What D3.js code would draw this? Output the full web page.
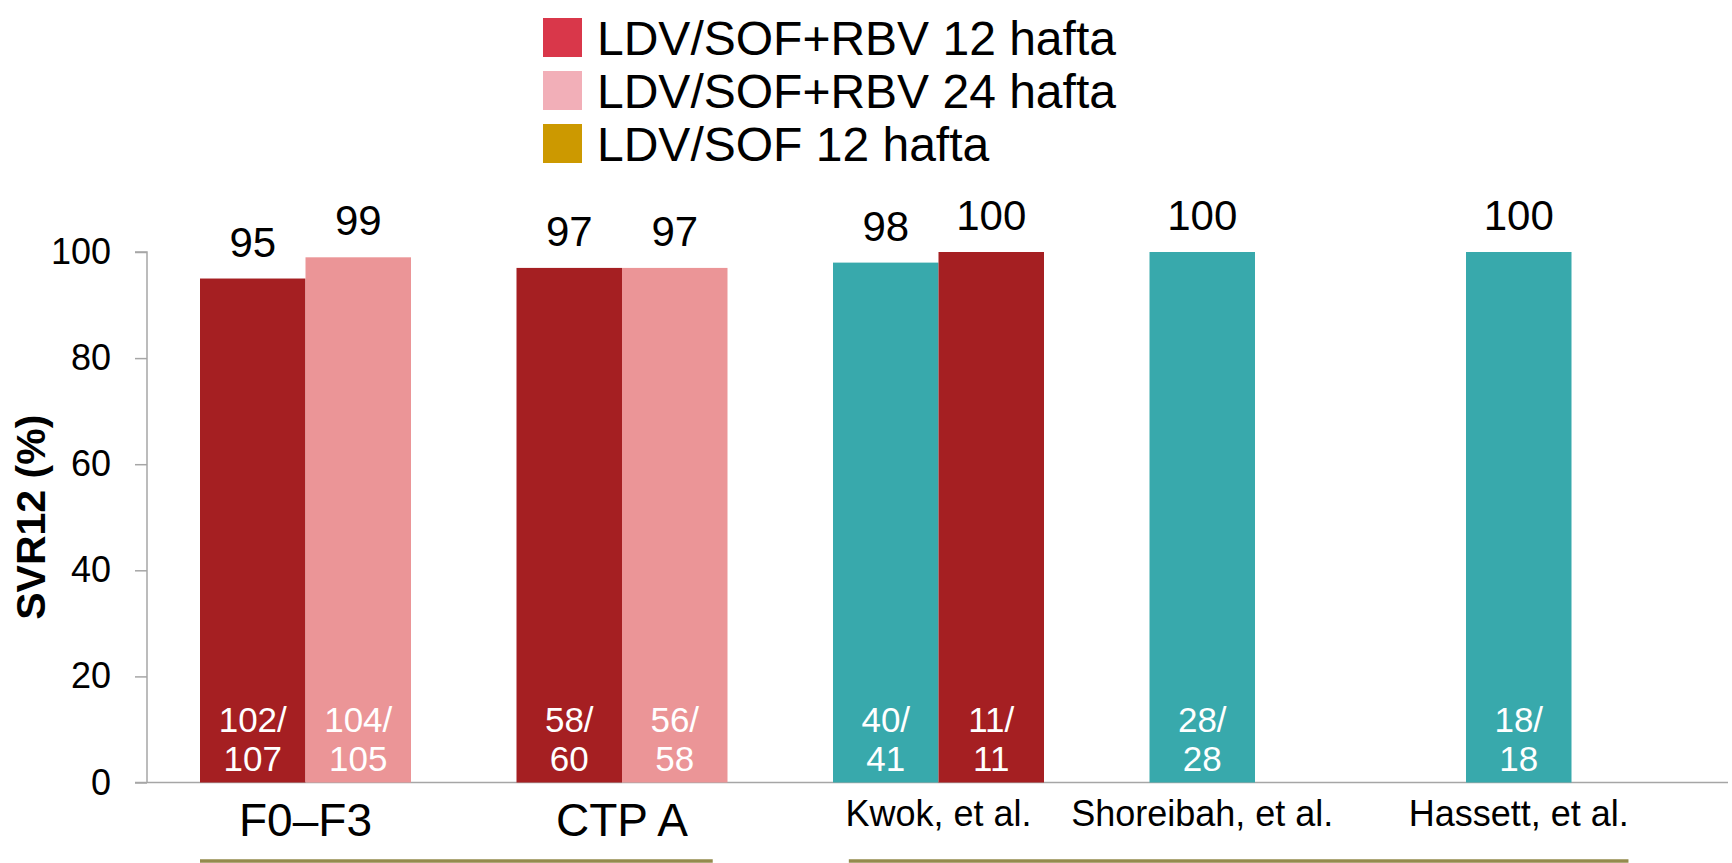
<!DOCTYPE html>
<html>
<head>
<meta charset="utf-8">
<script src="https://cdn.jsdelivr.net/npm/d3@7"></script>
<style>
  html, body { margin: 0; padding: 0; background: #ffffff; }
  svg { display: block; font-family: "Liberation Sans", Arial, Helvetica, sans-serif; }
</style>
</head>
<body>
<svg id="chart" width="1732" height="863"></svg>
<script>
// ---- data ----
const categories = ["F0–F3", "CTP A", "Kwok, et al.", "Shoreibah, et al.", "Hassett, et al."];
const seriesNames = ["LDV/SOF+RBV 12 hafta", "LDV/SOF+RBV 24 hafta", "LDV/SOF 12 hafta"];
const legendColors = ["#D9374A", "#F2AFB8", "#CC9900"];
const barColors = ["#A51F22", "#EB9597", "#38A9AC"];

const barCategory = ["F0–F3", "F0–F3", "CTP A", "CTP A", "Kwok, et al.", "Kwok, et al.", "Shoreibah, et al.", "Hassett, et al."];
const barSeries   = [0, 1, 0, 1, 2, 0, 2, 2];
const barSlot     = [0, 1, 0, 1, 0, 1, 0, 0];
const barValues   = [95, 99, 97, 97, 98, 100, 100, 100];
const barResponders = [102, 104, 58, 56, 40, 11, 28, 18];
const barTotals     = [107, 105, 60, 58, 41, 11, 28, 18];

const yTicks = [0, 20, 40, 60, 80, 100];
const yTitle = "SVR12 (%)";
const bracketGroups = [["F0–F3", "CTP A"], ["Kwok, et al.", "Hassett, et al."]];

// ---- layout ----
const svg = d3.select("#chart");
const axisX = 147;
const axisRight = 1728;
const y = d3.scaleLinear().domain([0, 100]).range([782.5, 252]);
const x = d3.scaleBand().domain(categories).range([200, 1677]).paddingInner(1 / 3).paddingOuter(0);
const xs = d3.scaleBand().domain([0, 1]).range([0, x.bandwidth()]).padding(0);

const bars = barValues.map((v, i) => ({
  cat: barCategory[i], s: barSeries[i], slot: barSlot[i], v,
  n: barResponders[i], N: barTotals[i]
}));

// ---- y axis ----
const yAxis = d3.axisLeft(y).tickValues(yTicks).tickSize(12).tickPadding(24).tickFormat(d3.format("d"));
const yg = svg.append("g").attr("transform", `translate(${axisX},0)`).call(yAxis);
yg.select(".domain").attr("stroke", "#A6A6A6").attr("stroke-width", 1.5)
  .attr("d", `M-12,${y(100)}H0V${y(0)}`);
yg.selectAll(".tick line").attr("stroke", "#A6A6A6").attr("stroke-width", 1.5);
yg.selectAll(".tick text").attr("fill", "#000").style("font-size", "36px")
  .style("font-family", "'Liberation Sans', Arial, sans-serif");

// baseline
svg.append("line")
  .attr("x1", axisX - 12).attr("x2", axisRight)
  .attr("y1", y(0)).attr("y2", y(0))
  .attr("stroke", "#A6A6A6").attr("stroke-width", 1.5);

// y title
svg.append("text")
  .attr("transform", `translate(45,${(y(0) + y(100)) / 2}) rotate(-90)`)
  .attr("text-anchor", "middle")
  .style("font-size", "41px").style("font-weight", "bold")
  .text(yTitle);

// ---- bars ----
const bx = d => x(d.cat) + xs(d.slot);
svg.append("g").selectAll("rect").data(bars).join("rect")
  .attr("x", bx)
  .attr("y", d => y(d.v))
  .attr("width", xs.bandwidth())
  .attr("height", d => y(0) - y(d.v))
  .attr("fill", d => barColors[d.s]);

// value labels
svg.append("g").selectAll("text").data(bars).join("text")
  .attr("x", d => bx(d) + xs.bandwidth() / 2)
  .attr("y", d => y(d.v) - 22)
  .attr("text-anchor", "middle")
  .style("font-size", "42px")
  .attr("fill", "#000")
  .text(d => d.v);

// inside n/N labels
const inner = svg.append("g").selectAll("text").data(bars).join("text")
  .attr("text-anchor", "middle")
  .style("font-size", "35px")
  .attr("fill", "#fff");
inner.append("tspan")
  .attr("x", d => bx(d) + xs.bandwidth() / 2)
  .attr("y", y(0) - 51)
  .text(d => d.n + "/");
inner.append("tspan")
  .attr("x", d => bx(d) + xs.bandwidth() / 2)
  .attr("y", y(0) - 12)
  .text(d => d.N);

// ---- category labels ----
categories.forEach((c, i) => {
  const bs = bars.filter(b => b.cat === c);
  const cx = d3.mean(bs, b => bx(b) + xs.bandwidth() / 2);
  svg.append("text")
    .attr("x", cx)
    .attr("y", i < 2 ? 836 : 826)
    .attr("text-anchor", "middle")
    .style("font-size", i < 2 ? "46px" : "36px")
    .attr("fill", "#000")
    .text(c);
});

// ---- group underlines ----
bracketGroups.forEach((g, i) => {
  const x1 = i === 0 ? x(g[0]) : x(g[0]) + x.bandwidth() * 0.075;
  const x2 = i === 0 ? x(g[1]) + x.bandwidth() * 0.93 : x(g[1]) + x.bandwidth() * 0.77;
  svg.append("line")
    .attr("x1", x1).attr("x2", x2)
    .attr("y1", 861).attr("y2", 861)
    .attr("stroke", "#948B4D").attr("stroke-width", 3.5);
});

// ---- legend ----
const lg = svg.append("g").attr("transform", "translate(543,18)");
const rows = lg.selectAll("g").data(seriesNames).join("g")
  .attr("transform", (d, i) => `translate(0,${i * 53})`);
rows.append("rect").attr("width", 39).attr("height", 39)
  .attr("fill", (d, i) => legendColors[i]);
rows.append("text").attr("x", 54).attr("y", 37)
  .style("font-size", "48px").attr("fill", "#000")
  .text(d => d);
</script>
</body>
</html>
